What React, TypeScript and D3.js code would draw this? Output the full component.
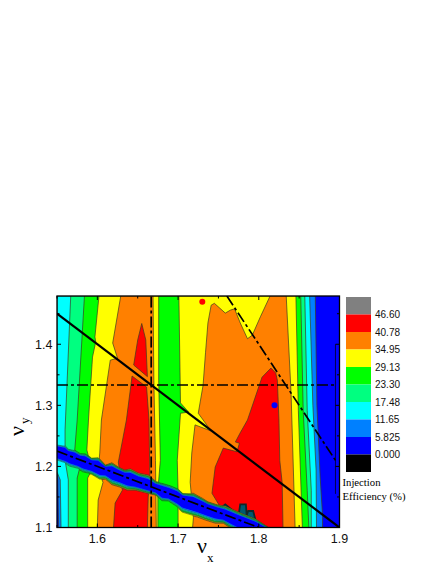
import React, { useEffect, useRef } from "react";
import * as d3 from "d3";

type Pt = [number, number];

// tune values [nu_x, nu_y], one boundary per contour band
const azureEdge: Pt[] = [[1.55, 1.479], [1.87, 1.479], [1.872, 1.3], [1.876, 1.183], [1.879, 1.12], [1.879, 1.1], [1.552, 1.1], [1.551, 1.178], [1.55, 1.194]];
const cyanEdge: Pt[] = [[1.55, 1.479], [1.863, 1.479], [1.867, 1.3], [1.871, 1.194], [1.8715, 1.1], [1.555, 1.1], [1.554, 1.178], [1.55, 1.191]];
const springEdge: Pt[] = [[1.567, 1.479], [1.857, 1.479], [1.86, 1.292], [1.865, 1.161], [1.865, 1.1], [1.564, 1.1], [1.564, 1.178], [1.56, 1.21], [1.56, 1.26]];
const greenEdge: Pt[] = [[1.584, 1.479], [1.852, 1.479], [1.855, 1.292], [1.86, 1.161], [1.862, 1.1], [1.575, 1.1], [1.575, 1.181], [1.579, 1.202], [1.572, 1.227], [1.575, 1.276]];
const yellowLeft: Pt[] = [[1.602, 1.479], [1.676, 1.479], [1.676, 1.341], [1.678, 1.21], [1.675, 1.161], [1.675, 1.1], [1.588, 1.1], [1.588, 1.181], [1.593, 1.194], [1.587, 1.227], [1.589, 1.276], [1.594, 1.379], [1.598, 1.404], [1.597, 1.412]];
const yellowRight: Pt[] = [[1.701, 1.479], [1.846, 1.479], [1.849, 1.292], [1.854, 1.1], [1.7, 1.1], [1.7, 1.161], [1.699, 1.21], [1.703, 1.287], [1.713, 1.289], [1.703, 1.304]];
const orangeLeft: Pt[] = [[1.629, 1.479], [1.669, 1.479], [1.67, 1.341], [1.672, 1.21], [1.673, 1.1], [1.6, 1.1], [1.601, 1.145], [1.607, 1.174], [1.601, 1.194], [1.603, 1.222], [1.605, 1.276], [1.616, 1.374], [1.625, 1.377], [1.619, 1.402]];
const orangeRight: Pt[] = [[1.718, 1.1], [1.719, 1.116], [1.715, 1.174], [1.717, 1.222], [1.721, 1.268], [1.741, 1.258], [1.725, 1.287], [1.731, 1.333], [1.734, 1.386], [1.737, 1.435], [1.741, 1.464], [1.745, 1.467], [1.7585, 1.451], [1.765, 1.456], [1.77, 1.458], [1.777, 1.435], [1.786, 1.409], [1.792, 1.415], [1.802, 1.445], [1.814, 1.479], [1.834, 1.479], [1.84, 1.32], [1.845, 1.1]];
const redUpper: Pt[] = [[1.655, 1.434], [1.66, 1.407], [1.662, 1.347], [1.645, 1.366], [1.65, 1.407]];
const redLower: Pt[] = [[1.643, 1.348], [1.661, 1.33], [1.664, 1.276], [1.665, 1.183], [1.663, 1.15], [1.662, 1.1], [1.62, 1.1], [1.622, 1.14], [1.631, 1.161], [1.626, 1.207], [1.636, 1.276]];
const redRight: Pt[] = [[1.815, 1.361], [1.821, 1.353], [1.823, 1.341], [1.825, 1.276], [1.826, 1.21], [1.829, 1.173], [1.83, 1.1], [1.783, 1.1], [1.7585, 1.12], [1.742, 1.156], [1.746, 1.199], [1.756, 1.23], [1.773, 1.224], [1.776, 1.238], [1.771, 1.24], [1.777, 1.255], [1.786, 1.276], [1.804, 1.346]];

// outer edges of the low efficiency band along nu_x + 2 nu_y = 4
const bandUpper: Pt[] = [[1.53, 1.248], [1.55, 1.238], [1.56, 1.237], [1.564, 1.23], [1.572, 1.228], [1.579, 1.222], [1.585, 1.222], [1.593, 1.214], [1.601, 1.215], [1.61, 1.202], [1.618, 1.206], [1.626, 1.199], [1.634, 1.194], [1.641, 1.196], [1.651, 1.189], [1.663, 1.186], [1.672, 1.176], [1.682, 1.173], [1.69, 1.17], [1.699, 1.165], [1.706, 1.156], [1.719, 1.156], [1.73, 1.148], [1.737, 1.142], [1.749, 1.137], [1.7585, 1.135], [1.777, 1.124], [1.796, 1.114], [1.812, 1.1], [1.83, 1.08]];
const bandLower: Pt[] = [[1.53, 1.216], [1.55, 1.206], [1.56, 1.202], [1.566, 1.197], [1.576, 1.194], [1.582, 1.189], [1.593, 1.186], [1.603, 1.178], [1.61, 1.179], [1.618, 1.17], [1.628, 1.166], [1.637, 1.161], [1.647, 1.161], [1.662, 1.156], [1.672, 1.153], [1.68, 1.142], [1.688, 1.142], [1.699, 1.132], [1.705, 1.124], [1.715, 1.12], [1.724, 1.117], [1.734, 1.112], [1.746, 1.107], [1.756, 1.107], [1.765, 1.099], [1.802, 1.071]];
const bandShare = [0.7, 0.77, 0.84, 0.9, 0.95, 1];
const spikes: Pt[] = [[1.746, 1.125], [1.7585, 1.138], [1.775, 1.12], [1.777, 1.138], [1.784, 1.138], [1.785, 1.12], [1.787, 1.127], [1.793, 1.127], [1.796, 1.112], [1.804, 1.099], [1.771, 1.099]];

// resonance lines
const sumLine: Pt[] = [[1.55, 1.45], [1.9, 1.1]];
const bandLine: Pt[] = [[1.55, 1.225], [1.8, 1.1]];
const dashedLines: Pt[][] = [
  [[1.55, 1.3333], [1.896, 1.3333]],
  [[1.6667, 1.1], [1.6667, 1.479]],
  [[1.7605, 1.479], [1.896, 1.208]],
  bandLine,
];
const redDot: Pt = [1.73, 1.4695];
const blueDot: Pt = [1.8195, 1.3];

const xTicks = [1.6, 1.7, 1.8, 1.9];
const xMinor = [1.55, 1.65, 1.75, 1.85];
const yTicks = [1.1, 1.2, 1.3, 1.4];
const yMinor = [1.15, 1.25, 1.35, 1.45];

const legendLabels = ["46.60", "40.78", "34.95", "29.13", "23.30", "17.48", "11.65", "5.825", "0.000"];
const legendColors = ["#808080", "#ff0000", "#ff8000", "#ffff00", "#00ff00", "#00ff80", "#00ffff", "#0080ff", "#0000ff", "#000000"];

export default function App() {
  const svgRef = useRef<SVGSVGElement>(null);

  useEffect(() => {
    const svg = d3.select(svgRef.current);
    svg.selectAll("*").remove();

    const x = d3.scaleLinear().domain([1.55, 1.9]).range([57, 339.5]);
    const y = d3.scaleLinear().domain([1.1, 1.479]).range([527.5, 296]);
    const line = d3.line<Pt>().x((d) => x(d[0])).y((d) => y(d[1]));
    const poly = (d: Pt[]) => line(d) + "Z";
    const serif = "'Liberation Serif', serif";
    const sans = "'Liberation Sans', Arial, sans-serif";

    // low to high, each one holds everything at or above that level
    const layers = [
      { color: "#0080ff", shapes: [azureEdge] },
      { color: "#00ffff", shapes: [cyanEdge] },
      { color: "#00ff80", shapes: [springEdge] },
      { color: "#00ff00", shapes: [greenEdge] },
      { color: "#ffff00", shapes: [yellowLeft, yellowRight] },
      { color: "#ff8000", shapes: [orangeLeft, orangeRight] },
      { color: "#ff0000", shapes: [redUpper, redLower, redRight] },
    ];

    const defs = svg.append("defs");
    defs.append("clipPath").attr("id", "plot").append("rect")
      .attr("x", x(1.55)).attr("y", y(1.479))
      .attr("width", x(1.9) - x(1.55)).attr("height", y(1.1) - y(1.479));
    layers.forEach((l, i) => {
      const c = defs.append("clipPath").attr("id", `lvl${i}`);
      l.shapes.forEach((s) => c.append("path").attr("d", poly(s)));
    });

    const plot = svg.append("g").attr("clip-path", "url(#plot)");
    plot.append("rect")
      .attr("x", x(1.55)).attr("y", y(1.479))
      .attr("width", x(1.9) - x(1.55)).attr("height", y(1.1) - y(1.479))
      .attr("fill", "#0000ff");

    layers.forEach((l) => {
      l.shapes.forEach((s) => {
        plot.append("path").attr("d", poly(s))
          .attr("fill", l.color).attr("stroke", "#3c3c20").attr("stroke-width", 0.7);
      });
    });

    plot.append("path").attr("d", poly(spikes))
      .attr("fill", "#005a70").attr("stroke", "#102828").attr("stroke-width", 1.8);

    // band: the rings shrink towards the resonance line, a ring only shows
    // where the background is at least that level
    const centreAt = d3.scaleLinear().domain([bandLine[0][0], bandLine[1][0]]).range([bandLine[0][1], bandLine[1][1]]);
    const bandRing = (share: number) => {
      const pull = (d: Pt): Pt => [d[0], centreAt(d[0]) + (d[1] - centreAt(d[0])) * share];
      return poly([...bandUpper.map(pull), ...[...bandLower].reverse().map(pull)]);
    };
    for (let i = bandShare.length - 1; i >= 0; i--) {
      plot.append("g").attr("clip-path", `url(#lvl${i})`)
        .append("path").attr("d", bandRing(bandShare[i]))
        .attr("fill", layers[i].color).attr("stroke", "#1f3a30").attr("stroke-width", 0.5);
    }
    plot.append("path").attr("d", bandRing(0.62)).attr("fill", "#0000ff");

    // resonance lines
    plot.append("path").attr("d", line(sumLine)).attr("fill", "none")
      .attr("stroke", "#000").attr("stroke-width", 2.2);
    dashedLines.forEach((d) => {
      plot.append("path").attr("d", line(d)).attr("fill", "none")
        .attr("stroke", "#000").attr("stroke-width", 1.7)
        .attr("stroke-dasharray", "11 3 3 3");
    });

    plot.append("circle").attr("cx", x(redDot[0])).attr("cy", y(redDot[1])).attr("r", 3).attr("fill", "#ff0000");
    plot.append("circle").attr("cx", x(blueDot[0])).attr("cy", y(blueDot[1])).attr("r", 3).attr("fill", "#0000ff");

    // thin line inside the right edge, it is in the original too
    svg.append("line")
      .attr("x1", x(1.895)).attr("x2", x(1.895))
      .attr("y1", y(1.4)).attr("y2", y(1.155))
      .attr("stroke", "#000").attr("stroke-width", 0.7);

    // frame and ticks
    svg.append("rect")
      .attr("x", x(1.55)).attr("y", y(1.479))
      .attr("width", x(1.9) - x(1.55)).attr("height", y(1.1) - y(1.479))
      .attr("fill", "none").attr("stroke", "#000").attr("stroke-width", 1.3);

    const tickLine = (x1: number, x2: number, y1: number, y2: number) =>
      svg.append("line").attr("x1", x1).attr("x2", x2).attr("y1", y1).attr("y2", y2)
        .attr("stroke", "#000").attr("stroke-width", 1);
    [...xTicks.map((t) => [t, 4]), ...xMinor.map((t) => [t, 2.5])].forEach(([t, s]) => {
      tickLine(x(t), x(t), y(1.1), y(1.1) - s);
      tickLine(x(t), x(t), y(1.479), y(1.479) + s);
    });
    [...yTicks.map((t) => [t, 4]), ...yMinor.map((t) => [t, 2.5])].forEach(([t, s]) => {
      tickLine(x(1.55), x(1.55) + s, y(t), y(t));
      tickLine(x(1.9), x(1.9) - s, y(t), y(t));
    });

    svg.selectAll(".xt").data(xTicks).join("text")
      .attr("x", (d) => x(d)).attr("y", 542.5).attr("text-anchor", "middle")
      .attr("font-family", sans).attr("font-size", 12.5).attr("fill", "#111")
      .text((d) => d.toFixed(1));
    svg.selectAll(".yt").data(yTicks).join("text")
      .attr("x", 52.5).attr("y", (d) => y(d) + 4.5).attr("text-anchor", "end")
      .attr("font-family", sans).attr("font-size", 12.5).attr("fill", "#111")
      .text((d) => d.toFixed(1));

    // axis titles
    svg.append("text").attr("x", 197).attr("y", 553).attr("font-family", serif).attr("font-size", 22).text("ν");
    svg.append("text").attr("x", 207).attr("y", 561.5).attr("font-family", serif).attr("font-size", 13).text("x");
    const yTitle = svg.append("g").attr("transform", "translate(24,436) rotate(-90)");
    yTitle.append("text").attr("x", 0).attr("y", 0).attr("font-family", serif).attr("font-size", 22).text("ν");
    yTitle.append("text").attr("x", 12).attr("y", 5).attr("font-family", serif).attr("font-size", 13).text("y");

    // legend
    const legend = d3.scaleBand<number>().domain(d3.range(legendColors.length)).range([297, 472]);
    svg.selectAll(".sw").data(legendColors).join("rect")
      .attr("x", 346).attr("width", 25)
      .attr("y", (_, i) => legend(i) as number).attr("height", legend.bandwidth())
      .attr("fill", (d) => d);
    svg.selectAll(".ll").data(legendLabels).join("text")
      .attr("x", 375).attr("y", (_, i) => (legend(i + 1) as number) + 3.5)
      .attr("font-family", sans).attr("font-size", 10).attr("fill", "#111")
      .text((d) => d);
    svg.append("text").attr("x", 342.5).attr("y", 486).attr("font-family", serif).attr("font-size", 10.7).text("Injection");
    svg.append("text").attr("x", 342.5).attr("y", 499.5).attr("font-family", serif).attr("font-size", 10.7).text("Efficiency (%)");
  }, []);

  return (
    <svg ref={svgRef} width={436} height={564} style={{ position: "absolute", left: 0, top: 0 }} />
  );
}
